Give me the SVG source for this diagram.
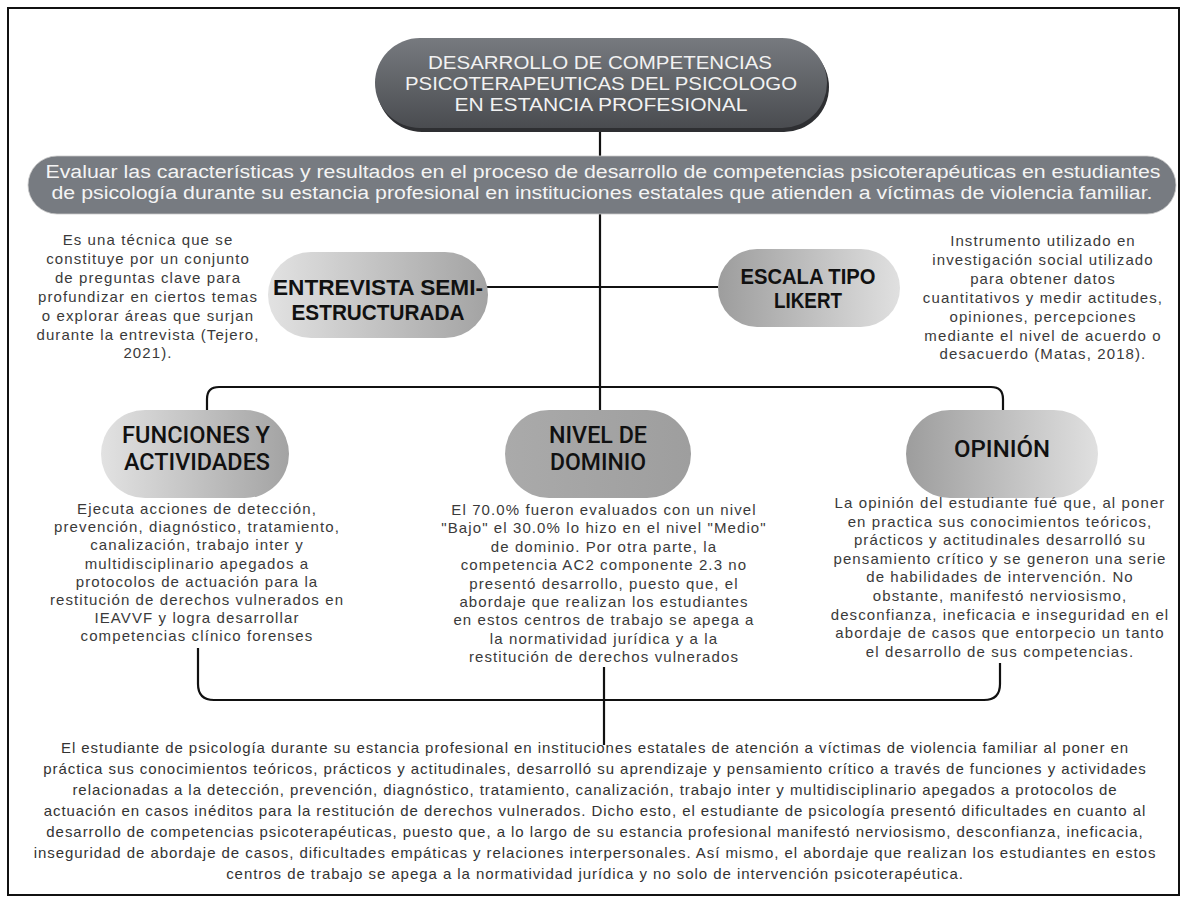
<svg xmlns="http://www.w3.org/2000/svg" width="1187" height="904" viewBox="0 0 1187 904">
<defs>
<linearGradient id="gTitle" x1="0" y1="0" x2="0" y2="1"><stop offset="0" stop-color="#777a7f"/><stop offset="1" stop-color="#4a4c50"/></linearGradient>
<linearGradient id="gLR" x1="0" y1="0" x2="1" y2="0"><stop offset="0" stop-color="#e2e2e2"/><stop offset="1" stop-color="#a3a3a3"/></linearGradient>
<linearGradient id="gRL" x1="0" y1="0" x2="1" y2="0"><stop offset="0" stop-color="#9d9d9d"/><stop offset="1" stop-color="#e0e0e0"/></linearGradient>
<linearGradient id="gMid" x1="0" y1="0" x2="1" y2="0"><stop offset="0" stop-color="#aaaaaa"/><stop offset="1" stop-color="#9e9e9e"/></linearGradient>
<style>
.head{font-family:Roboto,"Liberation Sans",sans-serif;font-weight:500;font-size:23px;fill:#111;text-anchor:middle}
.headb{font-family:"Liberation Sans",Arial,sans-serif;font-weight:700;font-size:22px;fill:#111;text-anchor:middle}
.desc{font-family:"Liberation Sans",Arial,sans-serif;font-size:15px;letter-spacing:1.1px;fill:#3a3a3a;text-anchor:middle}
.concl{font-family:"Liberation Sans",Arial,sans-serif;font-size:15px;letter-spacing:0.95px;fill:#333;text-anchor:middle}
.ban{font-family:"Liberation Sans",Arial,sans-serif;font-size:18px;fill:#f4f4f4;text-anchor:middle}
.ttl{font-family:"Liberation Sans",Arial,sans-serif;font-size:18.8px;fill:#f2f2f2;text-anchor:middle}
.conn{fill:none;stroke:#111;stroke-width:2.2}
</style>
</defs>
<rect x="8" y="8" width="1171" height="887" fill="#fff" stroke="#111" stroke-width="2"/>

<g id="connectors">
<path class="conn" d="M600,128 V156"/>
<path class="conn" d="M600,214 V410"/>
<path class="conn" d="M484,287 H718"/>
<path class="conn" d="M207,410 V399 Q207,387 219,387 H991 Q1003,387 1003,399 V410"/>
<path class="conn" d="M198,648 V684 Q198,700 214,700 H984 Q1000,700 1000,684 V663"/>
<path class="conn" d="M604,667 V745"/>
</g>

<g id="title">
<rect x="377" y="42" width="452" height="90" rx="45" fill="#2e2f32"/>
<rect x="375" y="38" width="452" height="90" rx="45" fill="url(#gTitle)"/>
<text class="ttl" x="600" y="69" textLength="344" lengthAdjust="spacingAndGlyphs">DESARROLLO DE COMPETENCIAS</text>
<text class="ttl" x="601" y="90" textLength="392" lengthAdjust="spacingAndGlyphs">PSICOTERAPEUTICAS DEL PSICOLOGO</text>
<text class="ttl" x="601" y="111" textLength="293" lengthAdjust="spacingAndGlyphs">EN ESTANCIA PROFESIONAL</text>
</g>

<g id="objective">
<rect x="28" y="156" width="1148" height="58" rx="29" fill="#777b81" stroke="#c9c9c9" stroke-width="0.8"/>
<text class="ban" x="603" y="178" textLength="1115" lengthAdjust="spacingAndGlyphs">Evaluar las características y resultados en el proceso de desarrollo de competencias psicoterapéuticas en estudiantes</text>
<text class="ban" x="602" y="199" textLength="1101" lengthAdjust="spacingAndGlyphs">de psicología durante su estancia profesional en instituciones estatales que atienden a víctimas de violencia familiar.</text>
</g>

<g id="entrevista">
<rect x="268" y="252" width="220" height="86" rx="43" fill="url(#gLR)"/>
<text class="headb" x="378" y="295" textLength="210" lengthAdjust="spacingAndGlyphs">ENTREVISTA SEMI-</text>
<text class="headb" x="378" y="320" textLength="173" lengthAdjust="spacingAndGlyphs">ESTRUCTURADA</text>
</g>
<g id="entrevista-desc">
<text class="desc" x="148" y="245">Es una técnica que se</text>
<text class="desc" x="148" y="264">constituye por un conjunto</text>
<text class="desc" x="148" y="283">de preguntas clave  para</text>
<text class="desc" x="148" y="302">profundizar en ciertos temas</text>
<text class="desc" x="148" y="321">o explorar áreas que surjan</text>
<text class="desc" x="148" y="340">durante la entrevista (Tejero,</text>
<text class="desc" x="148" y="358">2021).</text>
</g>

<g id="likert">
<rect x="718" y="249" width="182" height="78" rx="39" fill="url(#gRL)"/>
<text class="headb" x="808" y="284" textLength="135" lengthAdjust="spacingAndGlyphs">ESCALA  TIPO</text>
<text class="headb" x="808" y="308" textLength="68" lengthAdjust="spacingAndGlyphs">LIKERT</text>
</g>
<g id="likert-desc">
<text class="desc" x="1043" y="246">Instrumento  utilizado en</text>
<text class="desc" x="1043" y="265">investigación social utilizado</text>
<text class="desc" x="1043" y="284">para obtener datos</text>
<text class="desc" x="1043" y="303">cuantitativos y medir actitudes,</text>
<text class="desc" x="1043" y="322">opiniones, percepciones</text>
<text class="desc" x="1043" y="341">mediante el nivel de acuerdo o</text>
<text class="desc" x="1043" y="359">desacuerdo  (Matas, 2018).</text>
</g>

<g id="funciones">
<rect x="101" y="410" width="188" height="88" rx="44" fill="url(#gLR)"/>
<text class="head" x="196" y="443" textLength="148" lengthAdjust="spacingAndGlyphs">FUNCIONES Y</text>
<text class="head" x="197" y="470" textLength="146" lengthAdjust="spacingAndGlyphs">ACTIVIDADES</text>
</g>
<g id="funciones-desc">
<text class="desc" x="197" y="514">Ejecuta acciones de detección,</text>
<text class="desc" x="197" y="532">prevención, diagnóstico, tratamiento,</text>
<text class="desc" x="197" y="550">canalización, trabajo inter y</text>
<text class="desc" x="197" y="569">multidisciplinario apegados a</text>
<text class="desc" x="197" y="587">protocolos de actuación para la</text>
<text class="desc" x="197" y="605">restitución de derechos vulnerados en</text>
<text class="desc" x="197" y="623">IEAVVF y logra desarrollar</text>
<text class="desc" x="197" y="641">competencias clínico forenses</text>
</g>

<g id="nivel">
<rect x="505" y="410" width="186" height="88" rx="44" fill="url(#gMid)"/>
<text class="head" x="598" y="443" textLength="98" lengthAdjust="spacingAndGlyphs">NIVEL DE</text>
<text class="head" x="598" y="470" textLength="96" lengthAdjust="spacingAndGlyphs">DOMINIO</text>
</g>
<g id="nivel-desc">
<text class="desc" x="604" y="515">El 70.0% fueron evaluados con un nivel</text>
<text class="desc" x="604" y="533">"Bajo" el 30.0% lo hizo en el nivel "Medio"</text>
<text class="desc" x="604" y="552">de dominio. Por otra parte,  la</text>
<text class="desc" x="604" y="570">competencia AC2 componente 2.3 no</text>
<text class="desc" x="604" y="589">presentó desarrollo, puesto que, el</text>
<text class="desc" x="604" y="607">abordaje que realizan los estudiantes</text>
<text class="desc" x="604" y="625">en estos centros de trabajo se apega a</text>
<text class="desc" x="604" y="644">la normatividad jurídica y a la</text>
<text class="desc" x="604" y="662">restitución de derechos vulnerados</text>
</g>

<g id="opinion">
<rect x="906" y="410" width="192" height="88" rx="44" fill="url(#gRL)"/>
<text class="head" x="1002" y="457" textLength="96" lengthAdjust="spacingAndGlyphs">OPINIÓN</text>
</g>
<g id="opinion-desc">
<text class="desc" x="1000" y="508">La opinión del estudiante fué que, al poner</text>
<text class="desc" x="1000" y="527">en practica sus conocimientos teóricos,</text>
<text class="desc" x="1000" y="545">prácticos y actitudinales desarrolló su</text>
<text class="desc" x="1000" y="564">pensamiento crítico y se generon una serie</text>
<text class="desc" x="1000" y="582">de habilidades de intervención. No</text>
<text class="desc" x="1000" y="601">obstante, manifestó nerviosismo,</text>
<text class="desc" x="1000" y="620">desconfianza, ineficacia e inseguridad en el</text>
<text class="desc" x="1000" y="638">abordaje de casos que entorpecio un tanto</text>
<text class="desc" x="1000" y="657">el desarrollo de sus competencias.</text>
</g>

<g id="conclusion">
<text class="concl" x="595" y="753">El estudiante de psicología durante su estancia profesional en instituciones estatales de atención a víctimas de violencia familiar al poner en</text>
<text class="concl" x="595" y="774">práctica sus conocimientos teóricos, prácticos y actitudinales, desarrolló su aprendizaje y pensamiento crítico a través de funciones y actividades</text>
<text class="concl" x="595" y="795">relacionadas a la detección, prevención, diagnóstico, tratamiento, canalización, trabajo inter y multidisciplinario apegados a protocolos de</text>
<text class="concl" x="595" y="816">actuación en casos inéditos para la restitución de derechos vulnerados. Dicho esto, el estudiante de psicología presentó dificultades en cuanto al</text>
<text class="concl" x="595" y="837">desarrollo de competencias psicoterapéuticas, puesto que, a lo largo de su estancia profesional manifestó nerviosismo, desconfianza, ineficacia,</text>
<text class="concl" x="595" y="858">inseguridad de abordaje de casos, dificultades empáticas y relaciones interpersonales. Así mismo, el abordaje que realizan los estudiantes en estos</text>
<text class="concl" x="595" y="879">centros de trabajo se apega a la normatividad jurídica y no solo de intervención psicoterapéutica.</text>
</g>
</svg>
